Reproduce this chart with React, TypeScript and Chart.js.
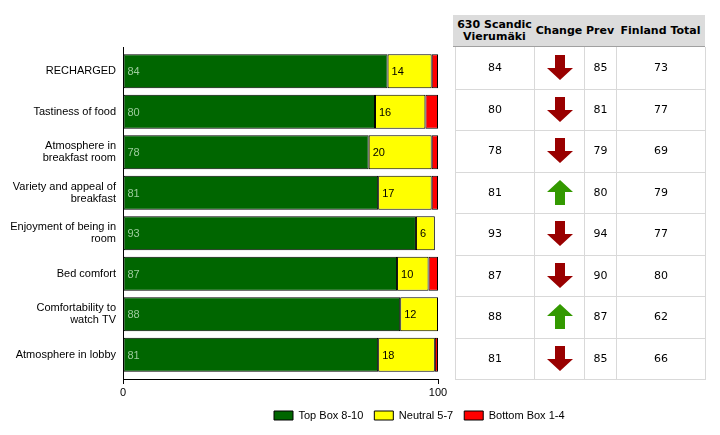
import React, { useEffect, useRef } from 'react';
import { Chart, registerables } from 'chart.js';

Chart.register(...registerables);

// ---- data ----
const categories: (string | string[])[] = [
  'RECHARGED',
  'Tastiness of food',
  ['Atmosphere in', 'breakfast room'],
  ['Variety and appeal of', 'breakfast'],
  ['Enjoyment of being in', 'room'],
  'Bed comfort',
  ['Comfortability to', 'watch TV'],
  'Atmosphere in lobby',
];
const topBox = [84, 80, 78, 81, 93, 87, 88, 81];
const neutral = [14, 16, 20, 17, 6, 10, 12, 18];
const bottomBox = [2, 4, 2, 2, 0, 3, 0, 1];
const seriesNames = ['Top Box 8-10', 'Neutral 5-7', 'Bottom Box 1-4'];
const xTicks = [0, 100];

const tableHeaders: string[][] = [['630 Scandic', 'Vierumäki'], ['Change'], ['Prev'], ['Finland Total']];
const current = [84, 80, 78, 81, 93, 87, 88, 81];
const previous = [85, 81, 79, 80, 94, 90, 87, 85];
const finlandTotal = [73, 77, 69, 79, 77, 80, 62, 66];

// ---- layout / style ----
const W = 720;
const H = 435;
const AREA_LEFT = 123;
const AREA_RIGHT = 438;
const AREA_TOP = 47;
const AREA_BOTTOM = 379;
const BAND_INSET = 4;
const FONT = "'Liberation Sans', Arial, Helvetica, sans-serif";
const TFONT = "'DejaVu Sans', Verdana, sans-serif";
const COLORS = ['#006600', '#ffff00', '#ff0000'];

const bandInset = {
  id: 'bandInset',
  afterLayout(chart: any) {
    const s: any = chart.scales.y;
    if (!s) return;
    const sign = Math.sign(s._endPixel - s._startPixel) || 1;
    s._startPixel += BAND_INSET * sign;
    s._endPixel -= BAND_INSET * sign;
    s._length = s._endPixel - s._startPixel;
  },
};

const valueLabels = {
  id: 'valueLabels',
  afterDatasetsDraw(chart: any) {
    const ctx = chart.ctx;
    ctx.save();
    ctx.font = `11px ${FONT}`;
    ctx.textBaseline = 'middle';
    ctx.textAlign = 'left';
    [0, 1].forEach((di) => {
      const meta = chart.getDatasetMeta(di);
      const ds = chart.data.datasets[di];
      meta.data.forEach((el: any, i: number) => {
        const v = ds.data[i] as number;
        if (!v) return;
        const left = Math.min(el.x, el.base);
        ctx.fillStyle = di === 0 ? '#9ccc9c' : '#000000';
        ctx.fillText(String(v), left + 4, el.y + 1);
      });
    });
    ctx.restore();
  },
};

const legendPlacer = {
  id: 'legendPlacer',
  beforeDraw(chart: any) {
    const lg: any = chart.legend;
    if (!lg || !lg.lineWidths) return;
    const p = lg.options.labels.padding;
    const x0 = (lg.left + p + lg.right - lg.lineWidths[0]) / 2;
    const dx = 274 - x0;
    const dy = 410 - (lg.top + p);
    lg.left += dx;
    lg.right += dx;
    lg.top += dy;
    lg.bottom += dy;
  },
};

function Arrow({ up }: { up: boolean }) {
  const color = up ? '#339900' : '#990000';
  const pts = up
    ? '13,0 26,12 18,12 18,25 8,25 8,12 0,12'
    : '8,0 18,0 18,13 26,13 13,25 0,13 8,13';
  return (
    <svg width={26} height={25} style={{ display: 'block' }}>
      <polygon points={pts} fill={color} />
    </svg>
  );
}

function Table() {
  const cols = [455, 534, 584, 616, 705];
  const rowH = (AREA_BOTTOM - AREA_TOP) / current.length;
  const lineColor = '#d9d9d9';
  const cells: React.ReactNode[] = [];
  cells.push(
    <div key="hdr" style={{ position: 'absolute', left: 453, top: 15, width: 252, height: 31, background: '#dcdcdc', borderBottom: '1px solid #a0a0a0' }} />
  );
  tableHeaders.forEach((h, c) => {
    cells.push(
      <div key={'h' + c} style={{ position: 'absolute', left: cols[c], width: cols[c + 1] - cols[c], top: 15, height: 31, display: 'flex', flexDirection: 'column', justifyContent: 'center', alignItems: 'center', font: `bold 11px ${TFONT}`, lineHeight: '12px', color: '#000', whiteSpace: 'nowrap' }}>
        {h.map((t, k) => <div key={k}>{t}</div>)}
      </div>
    );
  });
  cols.forEach((x, i) => {
    cells.push(<div key={'v' + i} style={{ position: 'absolute', left: x, top: AREA_TOP, width: 1, height: AREA_BOTTOM - AREA_TOP + 1, background: lineColor }} />);
  });
  for (let r = 1; r <= current.length; r++) {
    cells.push(<div key={'hl' + r} style={{ position: 'absolute', left: cols[0], top: Math.round(AREA_TOP + r * rowH), width: cols[4] - cols[0] + 1, height: 1, background: lineColor }} />);
  }
  current.forEach((v, r) => {
    const top = AREA_TOP + r * rowH;
    const vals: React.ReactNode[] = [
      String(v),
      <Arrow up={v > previous[r]} />,
      String(previous[r]),
      String(finlandTotal[r]),
    ];
    vals.forEach((content, c) => {
      cells.push(
        <div key={`c${r}-${c}`} style={{ position: 'absolute', left: cols[c] + 1, width: cols[c + 1] - cols[c] - 1, top, height: rowH, display: 'flex', justifyContent: 'center', alignItems: 'center', font: `11px ${TFONT}`, color: '#000' }}>
          {content}
        </div>
      );
    });
  });
  return <>{cells}</>;
}

export default function App() {
  const ref = useRef<HTMLCanvasElement | null>(null);
  useEffect(() => {
    if (!ref.current) return;
    Chart.defaults.font.family = FONT;
    Chart.defaults.font.size = 11;
    Chart.defaults.color = '#000000';
    const data = [topBox, neutral, bottomBox];
    const chart = new Chart(ref.current, {
      type: 'bar',
      data: {
        labels: categories,
        datasets: data.map((d, i) => ({
          label: seriesNames[i],
          data: d,
          backgroundColor: COLORS[i],
          borderColor: '#000000',
          borderWidth: 1,
          borderSkipped: false,
          barPercentage: 0.84,
          categoryPercentage: 1,
        })),
      },
      options: {
        indexAxis: 'y',
        responsive: false,
        animation: false,
        layout: { padding: { left: 0, top: AREA_TOP, right: W - AREA_RIGHT, bottom: 0 } },
        scales: {
          x: {
            type: 'linear',
            stacked: true,
            min: 0,
            max: 100,
            afterBuildTicks: (s: any) => { s.ticks = xTicks.map((v) => ({ value: v })); },
            ticks: { padding: 2, font: { size: 11 }, color: '#000' },
            grid: { drawOnChartArea: false, drawTicks: true, tickLength: 5, color: '#000' },
            border: { display: true, color: '#000', width: 1 },
            afterFit: (s: any) => { s.height = Math.max(0, H - AREA_BOTTOM - (s.chart.legend ? s.chart.legend.height : 0)); },
          },
          y: {
            type: 'category',
            stacked: true,
            ticks: { padding: 7, font: { size: 11, lineHeight: 1.12 }, color: '#000', autoSkip: false },
            grid: { display: false, drawTicks: false, tickLength: 0 },
            border: { display: true, color: '#000', width: 1 },
            afterFit: (s: any) => { s.width = AREA_LEFT; },
          },
        },
        plugins: {
          legend: {
            position: 'bottom',
            labels: { boxWidth: 19, boxHeight: 9, padding: 11, font: { size: 11 }, color: '#000' },
          },
          tooltip: { enabled: false },
        },
      },
      plugins: [bandInset, valueLabels, legendPlacer],
    } as any);
    return () => chart.destroy();
  }, []);

  return (
    <div style={{ position: 'absolute', left: 0, top: 0, width: W, height: H, background: '#fff', overflow: 'hidden' }}>
      <canvas ref={ref} width={W} height={H} style={{ position: 'absolute', left: 0, top: 0, width: W, height: H }} />
      <Table />
    </div>
  );
}
